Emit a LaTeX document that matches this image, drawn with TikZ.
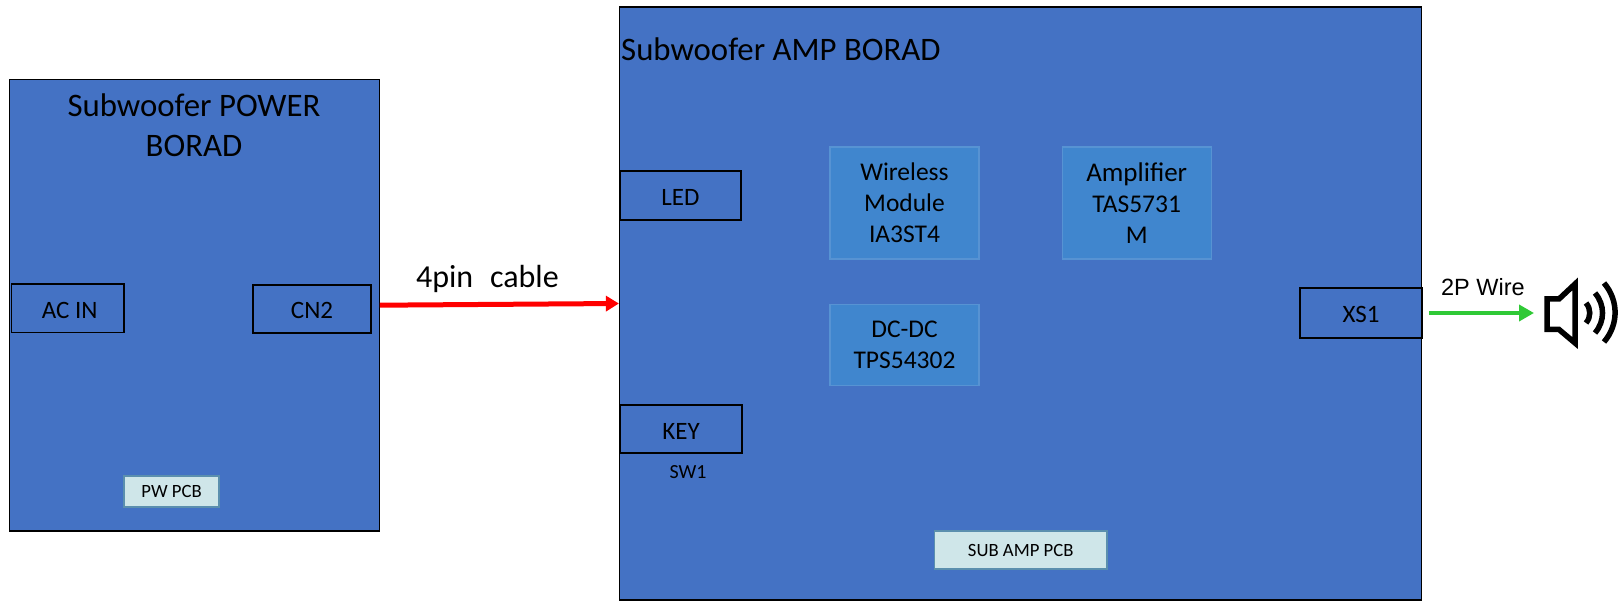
\documentclass[tikz,border=0pt]{standalone}
\usepackage{fontspec}
\setmainfont{Carlito}
\newfontfamily\wirefont{Liberation Sans}
\usepackage{xcolor}
\usetikzlibrary{arrows.meta,positioning}
\definecolor{brdblue}{HTML}{4472C4}
\definecolor{chipblue}{HTML}{4086CE}
\definecolor{chipedge}{HTML}{5793D3}
\definecolor{pcbfill}{HTML}{CFE6E9}
\definecolor{pcbedge}{HTML}{5B8FAE}
\definecolor{wiregreen}{HTML}{2FC936}

\begin{document}
\begin{tikzpicture}[
  x=1pt, y=-1pt,
  brd/.style={draw=black, fill=brdblue, line width=1.4pt, inner sep=0pt},
  conn/.style={draw=black, line width=1.6pt, inner sep=0pt, text height=20pt, text depth=0pt,
               font=\fontsize{25}{29}\selectfont},
  chip/.style={draw=chipedge, fill=chipblue, line width=1.2pt, inner sep=0pt,
               align=center, font=\fontsize{25.5}{31}\selectfont},
  pcb/.style={draw=pcbedge, fill=pcbfill, line width=1.2pt, inner sep=0pt,
              font=\fontsize{18.7}{22}\selectfont},
  ttl/.style={inner sep=0pt, align=center, font=\fontsize{32.8}{40}\selectfont},
  spk/.style={draw=black, line width=5.5pt, line join=miter}
]
\useasboundingbox (0,0) rectangle (1619,601);
% boards
\node[brd, minimum width=370pt, minimum height=451.5pt] (powerbrd) at (194.2,305.2) {};
\node[brd, minimum width=802pt, minimum height=593pt]   (ampbrd)   at (1020.6,303.5) {};
\node[ttl] (powerttl) at (194,125.5) {Subwoofer POWER\\BORAD};
\node[ttl, anchor=west] (ampttl) at (621,49.5) {Subwoofer AMP BORAD};
% connectors on the boards
\node[conn, minimum width=112.6pt, minimum height=48.5pt] (acin) at (67.7,308.2) {\hspace{4pt}AC IN};
\node[conn, minimum width=118pt, minimum height=48.5pt]   (cn2)  at (312,309) {CN2};
\node[conn, minimum width=121pt, minimum height=49pt]     (led)  at (680.5,195.5) {LED};
\node[conn, minimum width=121.5pt, minimum height=48pt]   (key)  at (681,429) {KEY};
\node[conn, minimum width=122pt, minimum height=50pt]     (xs1)  at (1361,313) {XS1};
\node[below=12pt of key, xshift=7pt, inner sep=0pt, font=\fontsize{20}{24}\selectfont] (sw1) {SW1};
% chips
\node[chip, minimum width=149pt, minimum height=112pt] (wireless) at (904.5,203) {Wireless\\Module\\IA3ST4};
\node[chip, minimum width=149pt, minimum height=112pt] (amplifier) at (1136.7,203)
  {{\fontsize{27}{31}\selectfont Amplifier}\\TAS5731\\M};
\node[chip, minimum width=149pt, minimum height=81pt]  (dcdc) at (904.5,345) {DC-DC\\TPS54302};
% pcb tags
\node[pcb, minimum width=95pt, minimum height=31pt]    (pwpcb)  at (171.5,491.5) {PW PCB};
\node[pcb, minimum width=172.5pt, minimum height=38pt] (subpcb) at (1020.7,550) {SUB AMP PCB};
% speaker
\coordinate (spkin) at (1543,313);
\coordinate (arc1a) at (1586,303);
\coordinate (arc1b) at (1586,323);
\coordinate (arc2a) at (1595,293);
\coordinate (arc2b) at (1595,333);
\coordinate (arc3a) at (1604,283);
\coordinate (arc3b) at (1604,342);
\draw[spk, miter limit=10] (1547,299) -- (1559,299) -- (1575,284) -- (1575,343) -- (1559,329.5) -- (1547,329.5) -- cycle;
\draw[spk] (arc1a) to[bend left=40] (arc1b);
\draw[spk] (arc2a) to[bend left=40] (arc2b);
\draw[spk] (arc3a) to[bend left=40] (arc3b);
% wires
\draw[red, line width=5pt, -{Triangle[length=13pt,width=15pt]}] (powerbrd.east) --
  node[black, above=9pt, xshift=-12pt, inner sep=0pt, font=\fontsize{32}{38}\selectfont] (cablelbl) {4pin\hspace{0.3em} cable} (ampbrd.west);
\draw[wiregreen, line width=4.5pt, -{Triangle[length=15pt,width=16pt]}, shorten <=6pt, shorten >=9pt] (xs1.east) --
  node[black, above=15pt, inner sep=0pt, font=\wirefont\fontsize{23.5}{28}\selectfont] (wirelbl) {2P Wire} (spkin);
\end{tikzpicture}
\end{document}
